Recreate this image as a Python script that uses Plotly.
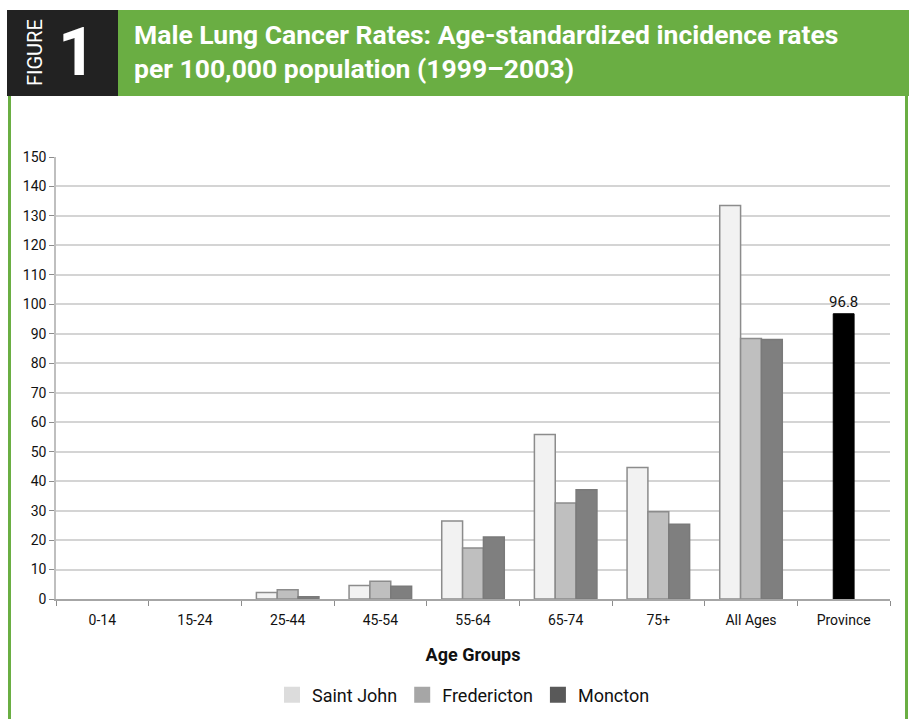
import plotly.graph_objects as go

AGE_GROUPS = ['0-14', '15-24', '25-44', '45-54', '55-64', '65-74', '75+', 'All Ages', 'Province']

# no visible bars for the two youngest groups
saint_john = [None, None, 2.2, 4.6, 26.5, 55.8, 44.6, 133.5, None]
fredericton = [None, None, 3.1, 6.0, 17.3, 32.6, 29.6, 88.4, None]
moncton = [None, None, 0.8, 4.3, 21.0, 37.1, 25.4, 88.1, None]
province = [None, None, None, None, None, None, None, None, 96.8]

FONT = 'Roboto, Arial, sans-serif'
GREEN = '#6aae43'

# plot area in pixels: left 56, right 890, top 157, bottom 599
W, H = 909, 719
L, R, T, B = 56, 19, 157, 120
PW, PH = W - L - R, H - T - B


def px_x(x):
    return (x - L) / PW


def px_y(y):
    return (H - B - y) / PH


fig = go.Figure()

bar_w = 0.225
series = [
    ('Saint John', saint_john, '#f2f2f2', '#8c8c8c', '#dcdcdc', -1.5 * bar_w),
    ('Fredericton', fredericton, '#bfbfbf', '#8c8c8c', '#a6a6a6', -0.5 * bar_w),
    ('Moncton', moncton, '#7f7f7f', '#7a7a7a', '#595959', 0.5 * bar_w),
]
for name, vals, fill, line, _, off in series:
    fig.add_trace(go.Bar(
        x=AGE_GROUPS, y=vals, name=name, showlegend=False,
        width=bar_w, offset=off,
        marker=dict(color=fill, line=dict(color=line, width=1.5)),
    ))

fig.add_trace(go.Bar(
    x=AGE_GROUPS, y=province, name='Province', showlegend=False,
    width=bar_w, offset=-0.5 * bar_w,
    marker=dict(color='#000000', line=dict(color='#000000', width=1)),
    text=['' if v is None else f'{v}' for v in province],
    textposition='outside', cliponaxis=False, constraintext='none',
    textfont=dict(size=15, color='#111111', family=FONT),
))

# legend entries (legend swatches are darker than the bars)
for name, _, _, _, leg, _ in series:
    fig.add_trace(go.Scatter(
        x=[None], y=[None], mode='markers', name=name,
        marker=dict(symbol='square', size=16, color=leg),
    ))

shapes = [
    # header: dark box + green band
    dict(type='rect', xref='paper', yref='paper', x0=px_x(7), x1=px_x(118),
         y0=px_y(96), y1=px_y(10), fillcolor='#222222', line_width=0, layer='below'),
    dict(type='rect', xref='paper', yref='paper', x0=px_x(118), x1=px_x(909),
         y0=px_y(96), y1=px_y(10), fillcolor=GREEN, line_width=0, layer='below'),
    # green frame sides
    dict(type='rect', xref='paper', yref='paper', x0=px_x(8), x1=px_x(11),
         y0=px_y(719), y1=px_y(96), fillcolor=GREEN, line_width=0, layer='below'),
    dict(type='rect', xref='paper', yref='paper', x0=px_x(905), x1=px_x(908),
         y0=px_y(719), y1=px_y(96), fillcolor=GREEN, line_width=0, layer='below'),
]

annotations = [
    dict(text='FIGURE', x=px_x(35), y=px_y(53), xref='paper', yref='paper',
         textangle=-90, showarrow=False, xanchor='center', yanchor='middle',
         font=dict(family=FONT, size=20, color='white')),
    dict(text='<b>1</b>', x=px_x(77), y=px_y(53), xref='paper', yref='paper',
         showarrow=False, xanchor='center', yanchor='middle',
         font=dict(family=FONT, size=66, color='white')),
    dict(text='<b>Male Lung Cancer Rates: Age-standardized incidence rates<br>per 100,000 population (1999–2003)</b>',
         x=px_x(132), y=px_y(52), xref='paper', yref='paper', align='left',
         showarrow=False, xanchor='left', yanchor='middle',
         font=dict(family=FONT, size=26.5, color='white')),
]

fig.update_layout(
    width=W, height=H,
    margin=dict(l=L, r=R, t=T, b=B, pad=0, autoexpand=False),
    paper_bgcolor='white', plot_bgcolor='white',
    barmode='overlay',
    font=dict(family=FONT, size=14, color='#111111'),
    shapes=shapes, annotations=annotations,
    legend=dict(orientation='h', x=px_x(272), xanchor='left', y=px_y(695), yanchor='middle',
                font=dict(family=FONT, size=18, color='#111111'),
                traceorder='normal'),
)

fig.update_xaxes(
    type='category', categoryorder='array', categoryarray=AGE_GROUPS,
    showline=True, linecolor='#a6a6a6', linewidth=1.5,
    ticks='outside', tickson='boundaries', ticklen=5, tickcolor='#8c8c8c',
    ticklabelstandoff=7,
    tickfont=dict(family=FONT, size=14, color='#111111'),
    title=dict(text='<b>Age Groups</b>', standoff=22,
               font=dict(family=FONT, size=18, color='#111111')),
)
fig.update_yaxes(
    range=[0, 150], dtick=10, showgrid=True, gridcolor='#d4d4d4', gridwidth=1.5,
    showline=True, linecolor='#bfbfbf', linewidth=1.5,
    ticks='outside', ticklen=5, tickcolor='#8c8c8c',
    tickfont=dict(family=FONT, size=14, color='#111111'),
    zeroline=False,
)

fig.write_html('out.html', config={'displayModeBar': False},
               post_script="document.body.style.margin='0';")
